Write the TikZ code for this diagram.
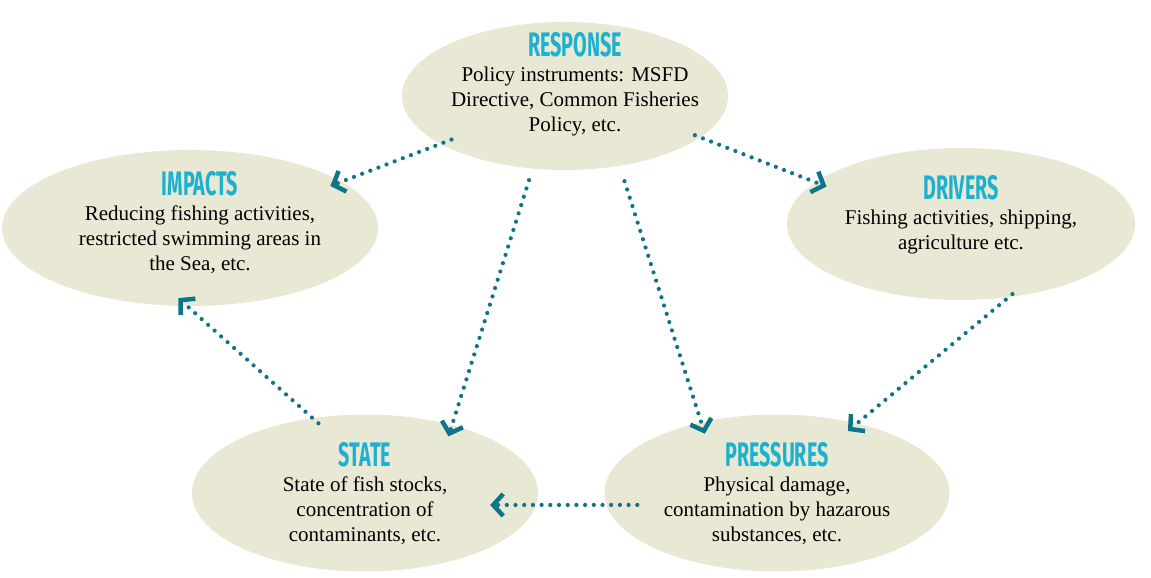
\documentclass[tikz,border=0pt]{standalone}
\usepackage{fontspec}
\setmainfont{Liberation Serif}
\newfontfamily\headfont[FakeStretch=0.58]{Fira Sans}
\usepackage{xcolor}
\usetikzlibrary{shapes.geometric,arrows.meta}

\definecolor{bubblefill}{HTML}{E9E8D5}
\definecolor{headblue}{HTML}{1BB1CF}
\definecolor{flowteal}{HTML}{0E7489}
\newcommand{\head}[1]{{\headfont\bfseries\fontsize{34}{25}\selectfont\color{headblue}#1}}
% text block inside a bubble, nudged by #1 (x, doubled) and #2 (y)
\newcommand{\bubbletext}[3]{\kern#1\raisebox{#2}[\height][\depth]{\begin{tabular}{@{}c@{}}#3\end{tabular}}}

\begin{document}
\begin{tikzpicture}[x=1pt,y=1pt,
  bubble/.style={ellipse,fill=bubblefill,inner sep=-40pt,
    font=\fontsize{21}{25}\selectfont},
  flow/.style={draw=flowteal,line width=4.2pt,line cap=round,
    dash pattern=on 0pt off 8.7pt,shorten >=-12pt,
    -{Straight Barb[length=10pt,width=22pt,line width=4.5pt]}}]
  \useasboundingbox (0,0) rectangle (1151,578);
  % the five DPSIR bubbles
  \node[bubble,minimum width=326pt,minimum height=148pt] (resp) at (565,482)
    {\bubbletext{20pt}{10pt}{\head{RESPONSE}\\Policy instruments: MSFD\\Directive, Common Fisheries\\Policy, etc.}};
  \node[bubble,minimum width=376pt,minimum height=156pt] (imp) at (190,350)
    {\bubbletext{20pt}{3pt}{\head{IMPACTS}\\Reducing fishing activities,\\restricted swimming areas in\\the Sea, etc.}};
  \node[bubble,minimum width=348pt,minimum height=152pt] (drv) at (961,354)
    {\bubbletext{0pt}{8pt}{\head{DRIVERS}\\Fishing activities, shipping,\\agriculture etc.}};
  \node[bubble,minimum width=346pt,minimum height=157pt] (state) at (365,85)
    {\bubbletext{0pt}{-3pt}{\head{STATE}\\State of fish stocks,\\concentration of\\contaminants, etc.}};
  \node[bubble,minimum width=345pt,minimum height=157pt] (pres) at (777,85)
    {\bubbletext{0pt}{-3pt}{\head{PRESSURES}\\Physical damage,\\contamination by hazarous\\substances, etc.}};
  % dotted links
  \draw[flow,shorten <=-12pt] (resp.201) -- (imp.17);
  \draw[flow,shorten <=-6pt] (resp.343) -- (drv.164);
  \draw[flow,shorten <=12pt] (resp.246) -- (state.38);
  \draw[flow,shorten <=16pt] (resp.308) -- (pres.137);
  \draw[flow,shorten <=-5pt] (drv.303) -- (pres.41);
  \draw[flow,shorten <=-31pt,shorten >=-46pt] (pres.184) -- (state.356);
  \draw[flow,shorten <=-8pt] (state.125) -- (imp.268);
\end{tikzpicture}
\end{document}
